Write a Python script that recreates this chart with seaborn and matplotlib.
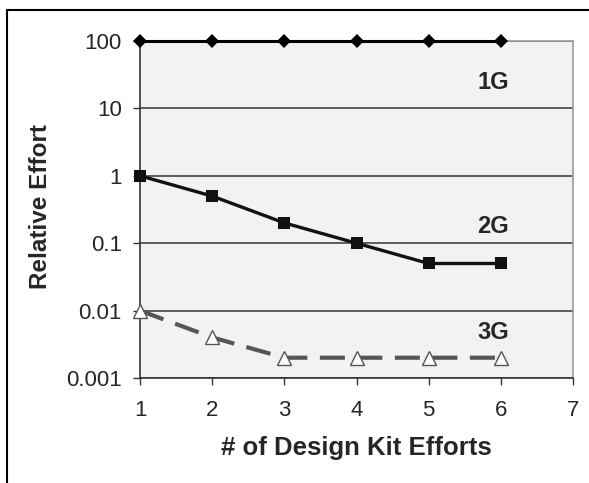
import pandas as pd
import seaborn as sns
import matplotlib.pyplot as plt
from matplotlib.lines import Line2D

# dados
kits = [1, 2, 3, 4, 5, 6]
g1 = [100, 100, 100, 100, 100, 100]
g2 = [1, 0.5, 0.2, 0.1, 0.05, 0.05]
g3 = [0.01, 0.004, 0.002, 0.002, 0.002, 0.002]
x_ticks = [1, 2, 3, 4, 5, 6, 7]
y_ticks = [0.001, 0.01, 0.1, 1, 10, 100]
y_labels = ["0.001", "0.01", "0.1", "1", "10", "100"]

df = pd.DataFrame({"kits": kits, "1G": g1, "2G": g2, "3G": g3})

sns.set_style("white")
plt.rcParams['font.family'] = ['Liberation Sans', 'DejaVu Sans']

fig = plt.figure(figsize=(5.89, 4.83), dpi=100)
ax = fig.add_axes([140 / 589, 1 - 378 / 483, 433 / 589, 337 / 483])
ax.set_facecolor("#f2f2f2")

sns.lineplot(data=df, x="kits", y="1G", ax=ax, color="black", lw=2.2,
             marker="D", markersize=6.8, markeredgewidth=0, clip_on=False, zorder=5)
sns.lineplot(data=df, x="kits", y="2G", ax=ax, color="#111111", lw=2.4,
             marker="s", markersize=8.5, markeredgewidth=0, clip_on=False, zorder=5)
sns.lineplot(data=df, x="kits", y="3G", ax=ax, color="#555555", lw=3.0,
             dashes=(6, 3), marker="^", markersize=9.5, markerfacecolor="white",
             markeredgecolor="#555555", markeredgewidth=1.0, clip_on=False, zorder=5)

ax.set_yscale("log")
ax.set_ylim(0.001, 100)
ax.set_xlim(1, 7)
ax.set_xticks(x_ticks)
ax.set_xticklabels([str(t) for t in x_ticks])
ax.set_yticks(y_ticks)
ax.set_yticklabels(y_labels)
ax.minorticks_off()
ax.tick_params(axis="both", labelsize=16, direction="out", length=5, width=1,
               color="#333333", left=True, bottom=True)
ax.tick_params(axis="x", pad=11)
ax.tick_params(axis="y", pad=8)
ax.yaxis.grid(True, color="#444444", lw=1.2)
ax.set_axisbelow(True)

for side in ["left", "bottom"]:
    ax.spines[side].set_color("#333333")
    ax.spines[side].set_linewidth(1.2)
for side in ["right", "top"]:
    ax.spines[side].set_color("#999999")
    ax.spines[side].set_linewidth(1.2)

ax.set_xlabel("# of Design Kit Efforts", fontsize=18.5, fontweight="bold", labelpad=11)
ax.set_ylabel("Relative Effort", fontsize=17.5, fontweight="bold")
ax.yaxis.set_label_coords(-0.203, 0.51)

ax.text(5.89, 24, "1G", fontsize=17, fontweight="bold", ha="center", va="center")
ax.text(5.89, 0.174, "2G", fontsize=17, fontweight="bold", ha="center", va="center")
ax.text(5.89, 0.0048, "3G", fontsize=17, fontweight="bold", ha="center", va="center")

# moldura externa
fig.add_artist(Line2D([7 / 589, 7 / 589], [0, 1 - 10 / 483], transform=fig.transFigure,
                      color="black", lw=1.5))
fig.add_artist(Line2D([7 / 589, 1], [1 - 10 / 483, 1 - 10 / 483], transform=fig.transFigure,
                      color="black", lw=1.5))

fig.savefig("out.png", dpi=100)
